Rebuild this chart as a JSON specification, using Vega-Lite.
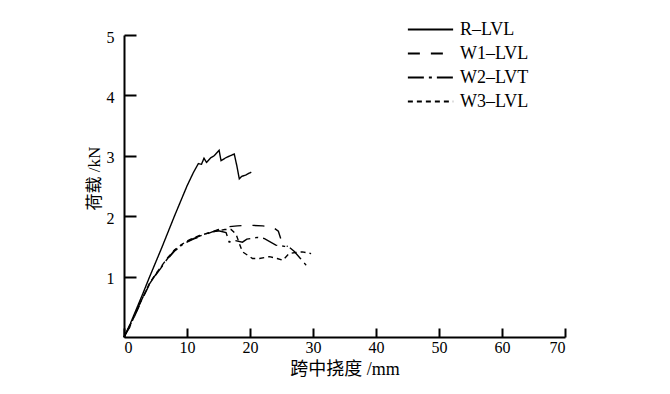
{
  "$schema": "https://vega.github.io/schema/vega-lite/v6.json",
  "autosize": "none",
  "width": 441,
  "height": 302,
  "padding": {"left": 124, "top": 35, "right": 105, "bottom": 57},
  "background": "white",
  "config": {"view": {"stroke": null}},
  "data": {"values": [
    {"s":"R–LVL","i":0,"x":0,"y":0},{"s":"R–LVL","i":1,"x":1,"y":0.22},{"s":"R–LVL","i":2,"x":2,"y":0.47},{"s":"R–LVL","i":3,"x":3,"y":0.72},{"s":"R–LVL","i":4,"x":4,"y":0.98},{"s":"R–LVL","i":5,"x":5,"y":1.23},{"s":"R–LVL","i":6,"x":6,"y":1.48},{"s":"R–LVL","i":7,"x":7,"y":1.74},{"s":"R–LVL","i":8,"x":8,"y":2.0},{"s":"R–LVL","i":9,"x":9,"y":2.25},{"s":"R–LVL","i":10,"x":10,"y":2.5},{"s":"R–LVL","i":11,"x":11,"y":2.72},{"s":"R–LVL","i":12,"x":11.8,"y":2.87},{"s":"R–LVL","i":13,"x":12.3,"y":2.86},{"s":"R–LVL","i":14,"x":12.7,"y":2.96},{"s":"R–LVL","i":15,"x":13.1,"y":2.89},{"s":"R–LVL","i":16,"x":13.8,"y":2.97},{"s":"R–LVL","i":17,"x":14.3,"y":3.0},{"s":"R–LVL","i":18,"x":15.1,"y":3.09},{"s":"R–LVL","i":19,"x":15.4,"y":2.92},{"s":"R–LVL","i":20,"x":16.2,"y":2.97},{"s":"R–LVL","i":21,"x":17.5,"y":3.03},{"s":"R–LVL","i":22,"x":17.9,"y":2.84},{"s":"R–LVL","i":23,"x":18.3,"y":2.62},{"s":"R–LVL","i":24,"x":18.7,"y":2.66},{"s":"R–LVL","i":25,"x":19.3,"y":2.68},{"s":"R–LVL","i":26,"x":20.2,"y":2.73},
    {"s":"W1–LVL","i":0,"x":0,"y":0},{"s":"W1–LVL","i":1,"x":1,"y":0.18},{"s":"W1–LVL","i":2,"x":2,"y":0.42},{"s":"W1–LVL","i":3,"x":3,"y":0.65},{"s":"W1–LVL","i":4,"x":4,"y":0.86},{"s":"W1–LVL","i":5,"x":5,"y":1.02},{"s":"W1–LVL","i":6,"x":6,"y":1.16},{"s":"W1–LVL","i":7,"x":7,"y":1.3},{"s":"W1–LVL","i":8,"x":8,"y":1.42},{"s":"W1–LVL","i":9,"x":9,"y":1.5},{"s":"W1–LVL","i":10,"x":10,"y":1.57},{"s":"W1–LVL","i":11,"x":11,"y":1.62},{"s":"W1–LVL","i":12,"x":12,"y":1.66},{"s":"W1–LVL","i":13,"x":13,"y":1.7},{"s":"W1–LVL","i":14,"x":14,"y":1.74},{"s":"W1–LVL","i":15,"x":15,"y":1.78},{"s":"W1–LVL","i":16,"x":16,"y":1.82},{"s":"W1–LVL","i":17,"x":18,"y":1.84},{"s":"W1–LVL","i":18,"x":20,"y":1.85},{"s":"W1–LVL","i":19,"x":22,"y":1.84},{"s":"W1–LVL","i":20,"x":23.6,"y":1.82},{"s":"W1–LVL","i":21,"x":24.5,"y":1.75},{"s":"W1–LVL","i":22,"x":24.9,"y":1.62},{"s":"W1–LVL","i":23,"x":25.2,"y":1.52},{"s":"W1–LVL","i":24,"x":26,"y":1.5},
    {"s":"W2–LVT","i":0,"x":0,"y":0},{"s":"W2–LVT","i":1,"x":1,"y":0.2},{"s":"W2–LVT","i":2,"x":2,"y":0.44},{"s":"W2–LVT","i":3,"x":3,"y":0.66},{"s":"W2–LVT","i":4,"x":4,"y":0.87},{"s":"W2–LVT","i":5,"x":5,"y":1.03},{"s":"W2–LVT","i":6,"x":6,"y":1.17},{"s":"W2–LVT","i":7,"x":7,"y":1.31},{"s":"W2–LVT","i":8,"x":8,"y":1.43},{"s":"W2–LVT","i":9,"x":9,"y":1.51},{"s":"W2–LVT","i":10,"x":10,"y":1.58},{"s":"W2–LVT","i":11,"x":11,"y":1.63},{"s":"W2–LVT","i":12,"x":12,"y":1.67},{"s":"W2–LVT","i":13,"x":13,"y":1.71},{"s":"W2–LVT","i":14,"x":14,"y":1.74},{"s":"W2–LVT","i":15,"x":15,"y":1.76},{"s":"W2–LVT","i":16,"x":16.2,"y":1.73},{"s":"W2–LVT","i":17,"x":16.7,"y":1.57},{"s":"W2–LVT","i":18,"x":17.5,"y":1.6},{"s":"W2–LVT","i":19,"x":18.8,"y":1.57},{"s":"W2–LVT","i":20,"x":19.5,"y":1.62},{"s":"W2–LVT","i":21,"x":21.2,"y":1.65},{"s":"W2–LVT","i":22,"x":22.3,"y":1.63},{"s":"W2–LVT","i":23,"x":24.1,"y":1.52},{"s":"W2–LVT","i":24,"x":25.5,"y":1.5},{"s":"W2–LVT","i":25,"x":26.2,"y":1.49},{"s":"W2–LVT","i":26,"x":27,"y":1.42},{"s":"W2–LVT","i":27,"x":28,"y":1.3},{"s":"W2–LVT","i":28,"x":28.9,"y":1.19},{"s":"W2–LVT","i":29,"x":29.4,"y":1.13},
    {"s":"W3–LVL","i":0,"x":0,"y":0},{"s":"W3–LVL","i":1,"x":1,"y":0.19},{"s":"W3–LVL","i":2,"x":2,"y":0.43},{"s":"W3–LVL","i":3,"x":3,"y":0.66},{"s":"W3–LVL","i":4,"x":4,"y":0.88},{"s":"W3–LVL","i":5,"x":5,"y":1.04},{"s":"W3–LVL","i":6,"x":6,"y":1.18},{"s":"W3–LVL","i":7,"x":7,"y":1.32},{"s":"W3–LVL","i":8,"x":8,"y":1.44},{"s":"W3–LVL","i":9,"x":9,"y":1.52},{"s":"W3–LVL","i":10,"x":10,"y":1.59},{"s":"W3–LVL","i":11,"x":11,"y":1.64},{"s":"W3–LVL","i":12,"x":12,"y":1.68},{"s":"W3–LVL","i":13,"x":13,"y":1.71},{"s":"W3–LVL","i":14,"x":14,"y":1.74},{"s":"W3–LVL","i":15,"x":15,"y":1.76},{"s":"W3–LVL","i":16,"x":16,"y":1.78},{"s":"W3–LVL","i":17,"x":17,"y":1.78},{"s":"W3–LVL","i":18,"x":17.8,"y":1.7},{"s":"W3–LVL","i":19,"x":18.3,"y":1.55},{"s":"W3–LVL","i":20,"x":18.8,"y":1.41},{"s":"W3–LVL","i":21,"x":20.4,"y":1.3},{"s":"W3–LVL","i":22,"x":21.5,"y":1.3},{"s":"W3–LVL","i":23,"x":23.1,"y":1.33},{"s":"W3–LVL","i":24,"x":24.3,"y":1.3},{"s":"W3–LVL","i":25,"x":25.2,"y":1.27},{"s":"W3–LVL","i":26,"x":26.2,"y":1.38},{"s":"W3–LVL","i":27,"x":27.2,"y":1.4},{"s":"W3–LVL","i":28,"x":28.3,"y":1.41},{"s":"W3–LVL","i":29,"x":29.7,"y":1.38}
  ]},
  "mark": {"type": "line", "color": "black", "strokeWidth": 1.4},
  "encoding": {
    "x": {"field": "x", "type": "quantitative", "scale": {"domain": [0, 70], "nice": false, "zero": true},
      "axis": {"title": "跨中挠度 /mm", "values": [0,10,20,30,40,50,60,70], "grid": false, "domainColor": "black", "domainWidth": 2, "tickColor": "black", "tickWidth": 2, "tickSize": -9, "labelPadding": 11, "labelColor": "black", "labelFont": "Liberation Serif", "labelFontSize": 16, "titleFont": "Liberation Serif, Noto Sans CJK SC", "titleFontSize": 18, "titleFontWeight": "normal", "titleColor": "black", "titlePadding": 5}},
    "y": {"field": "y", "type": "quantitative", "scale": {"domain": [0, 5], "nice": false},
      "axis": {"title": "荷载 /kN", "values": [1,2,3,4,5], "grid": false, "domainColor": "black", "domainWidth": 2, "tickColor": "black", "tickWidth": 2, "tickSize": -12, "labelPadding": 22, "labelOffset": 2, "labelColor": "black", "labelFont": "Liberation Serif", "labelFontSize": 16, "titleFont": "Liberation Serif, Noto Sans CJK SC", "titleFontSize": 17, "titleFontWeight": "normal", "titleColor": "black", "titlePadding": 3, "titleY": 143}},
    "strokeDash": {"field": "s", "type": "nominal",
      "scale": {"domain": ["R–LVL","W1–LVL","W2–LVT","W3–LVL"], "range": [[1,0],[12,11],[16,5,3,5],[5,4]]},
      "legend": {"title": null, "orient": "none", "legendX": 294, "legendY": -18, "symbolType": "M-2,0H2", "symbolSize": 512, "symbolStrokeWidth": 2, "symbolStrokeColor": "black", "symbolFillColor": "transparent", "labelFont": "Liberation Serif", "labelFontSize": 18, "labelColor": "black", "rowPadding": 2, "labelOffset": 17}},
    "detail": {"field": "s"},
    "order": {"field": "i", "type": "quantitative"}
  }
}
